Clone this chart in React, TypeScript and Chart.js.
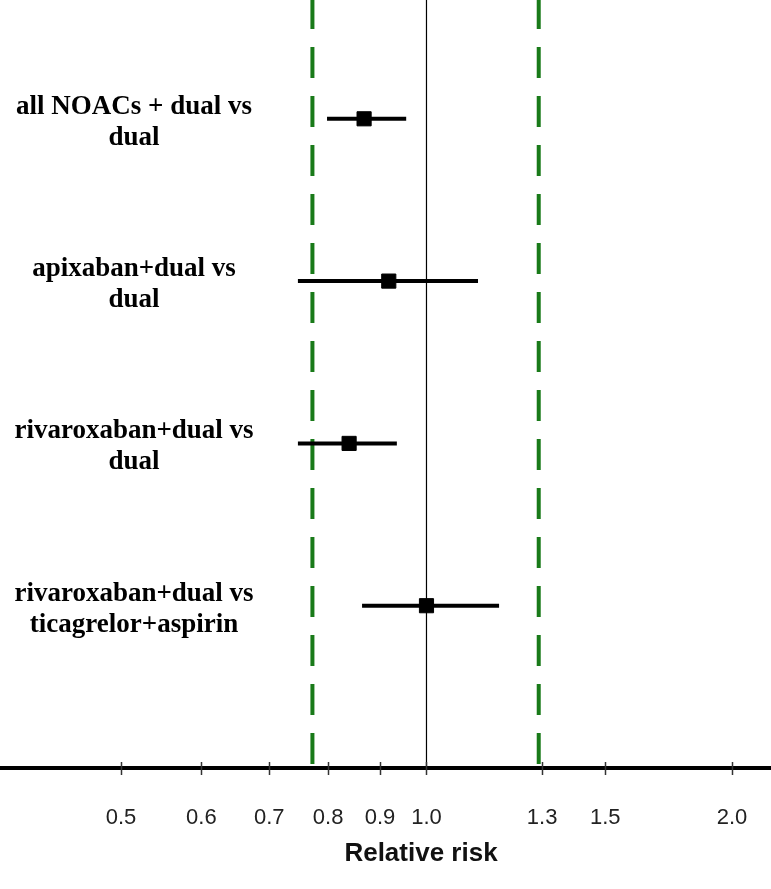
import React, { useEffect, useRef } from "react";
import { Chart, registerables } from "chart.js";

Chart.register(...registerables);

// ---- data ----
const CATEGORIES: string[][] = [
  ["all NOACs + dual vs", "dual"],
  ["apixaban+dual vs", "dual"],
  ["rivaroxaban+dual vs", "dual"],
  ["rivaroxaban+dual vs", "ticagrelor+aspirin"],
];
const ESTIMATE: number[] = [0.868, 0.918, 0.839, 1.0];
const LOWER: number[] = [0.798, 0.747, 0.747, 0.864];
const UPPER: number[] = [0.955, 1.124, 0.935, 1.179];
const TICK_VALUES: number[] = [0.5, 0.6, 0.7, 0.8, 0.9, 1.0, 1.3, 1.5, 2.0];
const GREEN_LINES: number[] = [0.772, 1.29];
const NULL_LINE = 1.0;
const X_MIN = 0.38;
const X_MAX = 2.185;
const Y_MIN = 0.268;
const Y_MAX = 5.0;
const AXIS_TITLE = "Relative risk";

const GREEN = "#197a19";

export default function App() {
  const ref = useRef<HTMLCanvasElement | null>(null);

  useEffect(() => {
    document.body.style.margin = "0";
    const canvas = ref.current;
    if (!canvas) return;

    const rowY = CATEGORIES.map((_, i) => i + 1);

    const datasets: any[] = [
      {
        label: "estimate",
        data: ESTIMATE.map((v, i) => ({ x: v, y: rowY[i] })),
        pointStyle: "rect",
        pointRadius: 10,
        pointHoverRadius: 10,
        backgroundColor: "#000",
        borderColor: "#000",
        borderWidth: 1,
        showLine: false,
      },
      ...LOWER.map((lo, i) => ({
        label: "ci" + i,
        data: [
          { x: lo, y: rowY[i] },
          { x: UPPER[i], y: rowY[i] },
        ],
        showLine: true,
        borderColor: "#000",
        borderWidth: 4,
        pointRadius: 0,
        pointHoverRadius: 0,
      })),
      {
        label: "null",
        data: [
          { x: NULL_LINE, y: Y_MIN },
          { x: NULL_LINE, y: Y_MAX },
        ],
        showLine: true,
        borderColor: "#000",
        borderWidth: 1.2,
        pointRadius: 0,
        pointHoverRadius: 0,
      },
      ...GREEN_LINES.map((g, i) => ({
        label: "green" + i,
        data: [
          { x: g, y: Y_MIN },
          { x: g, y: Y_MAX },
        ],
        showLine: true,
        borderColor: GREEN,
        borderWidth: 4,
        borderDash: [31, 18],
        borderDashOffset: 2,
        pointRadius: 0,
        pointHoverRadius: 0,
      })),
    ];

    const overlay = {
      id: "overlay",
      afterDraw(chart: any) {
        const { ctx, chartArea } = chart;
        const xs = chart.scales.x;
        const ys = chart.scales.y;
        const axisY = chartArea.bottom;
        ctx.save();
        // tick marks crossing the axis
        ctx.strokeStyle = "#333";
        ctx.lineWidth = 1.5;
        TICK_VALUES.forEach((v) => {
          const px = Math.round(xs.getPixelForValue(v)) + 0.5;
          ctx.beginPath();
          ctx.moveTo(px, axisY - 6);
          ctx.lineTo(px, axisY + 7);
          ctx.stroke();
        });
        // row labels
        ctx.fillStyle = "#000";
        ctx.font = "bold 27px 'Liberation Serif', 'Times New Roman', serif";
        ctx.textAlign = "center";
        ctx.textBaseline = "alphabetic";
        CATEGORIES.forEach((lines, i) => {
          const y = ys.getPixelForValue(rowY[i]);
          ctx.fillText(lines[0], 134, y - 5);
          if (lines[1]) ctx.fillText(lines[1], 134, y + 26);
        });
        // axis title
        ctx.font = "bold 26px 'Liberation Sans', Arial, sans-serif";
        ctx.fillStyle = "#111";
        ctx.fillText(AXIS_TITLE, 421, 861);
        ctx.restore();
      },
    };

    const chart = new Chart(canvas, {
      type: "scatter",
      data: { datasets },
      options: {
        animation: false,
        responsive: false,
        devicePixelRatio: 1,
        layout: { autoPadding: false, padding: { left: 0, right: 0, top: 0, bottom: 57.6 } },
        plugins: {
          legend: { display: false },
          tooltip: { enabled: false },
        },
        scales: {
          x: {
            type: "logarithmic",
            min: X_MIN,
            max: X_MAX,
            bounds: "data",
            afterBuildTicks: (scale: any) => {
              scale.ticks = TICK_VALUES.map((v) => ({ value: v }));
            },
            ticks: {
              autoSkip: false,
              maxRotation: 0,
              padding: 0,
              color: "#222",
              font: { family: "'Liberation Sans', Arial, sans-serif", size: 22 },
              callback: (value: any) => Number(value).toFixed(1),
            },
            grid: {
              drawOnChartArea: false,
              drawTicks: true,
              tickLength: 37,
              tickColor: "rgba(0,0,0,0)",
            },
            border: { display: true, color: "#000", width: 4 },
          },
          y: {
            type: "linear",
            display: false,
            reverse: true,
            min: Y_MIN,
            max: Y_MAX,
            bounds: "data",
          },
        },
      },
      plugins: [overlay],
    } as any);

    return () => chart.destroy();
  }, []);

  return (
    <div style={{ width: 771, height: 889 }}>
      <canvas ref={ref} width={771} height={889} style={{ display: "block" }} />
    </div>
  );
}
